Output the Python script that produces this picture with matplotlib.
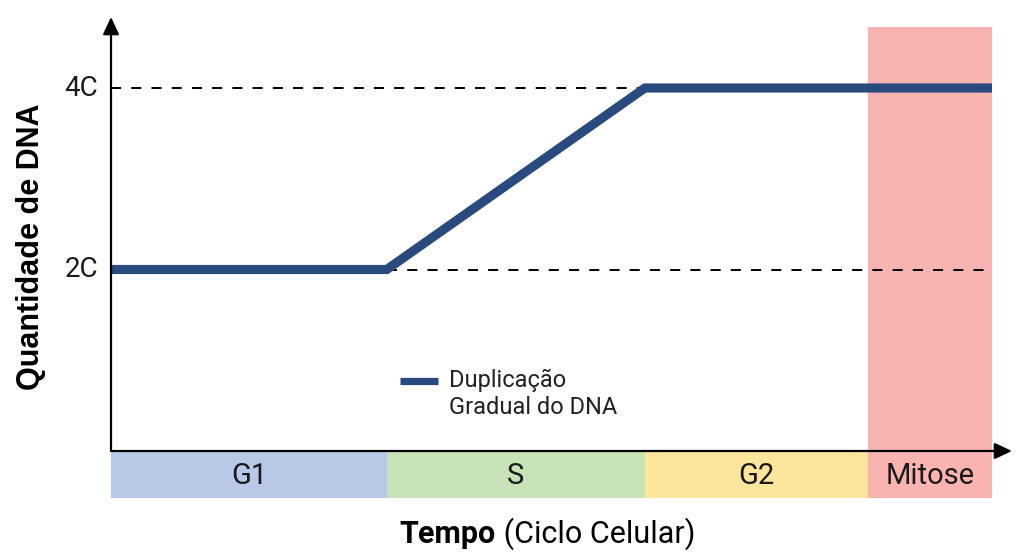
import matplotlib
matplotlib.use("Agg")
import matplotlib.pyplot as plt
from matplotlib.patches import Rectangle
import numpy as np

# ---- data ----
phases = ["G1", "S", "G2", "Mitose"]
phase_durations = [3.13, 2.93, 2.53, 1.41]
phase_colors = ["#b8c9e8", "#c8e3b8", "#fde69c", "#f9b4b1"]
dna_time = [0.0, 3.13, 6.06, 10.0]
dna_amount = [2, 2, 4, 4]
y_ticks = [2, 4]
y_tick_labels = ["2C", "4C"]
legend_lines = ["Duplicação", "Gradual do DNA"]
ylabel = "Quantidade de DNA"
xlabel_bold = "Tempo"
xlabel_rest = " (Ciclo Celular)"

# ---- layout (pixel <-> data helpers) ----
W, H = 1024, 559
X0, PX_X = 111.0, 88.1      # pixel of x=0, pixels per x unit
Y0, PX_Y = 451.0, 90.75     # pixel of y=0, pixels per y unit
def dx(px): return (px - X0) / PX_X
def dy(py): return (Y0 - py) / PX_Y

fig = plt.figure(figsize=(W / 100, H / 100), dpi=100)
ax = fig.add_axes([0, 0, 1, 1])
ax.set_xlim(dx(0), dx(W))
ax.set_ylim(dy(H), dy(0))
ax.axis("off")

bounds = np.concatenate([[0], np.cumsum(phase_durations)])
bar_bottom = dy(497.5)
mitose_top = dy(27)

# phase bar and mitosis highlight
for i, (name, col) in enumerate(zip(phases, phase_colors)):
    left, right = bounds[i], bounds[i + 1]
    top = mitose_top if name == "Mitose" else 0
    ax.add_patch(Rectangle((left, bar_bottom), right - left, top - bar_bottom,
                           facecolor=col, edgecolor="none", zorder=1))
    ax.text((left + right) / 2, dy(476), name, ha="center", va="center",
            fontsize=21, family="Roboto", color="#1a1a1a", zorder=5)

# reference dashed lines
ax.hlines(4, 0, bounds[2], colors="black", linewidth=1.4,
          linestyles=(0, (5.2, 5.2)), zorder=2)
ax.hlines(2, bounds[1], dx(986), colors="black", linewidth=1.4,
          linestyles=(0, (5.2, 5.2)), zorder=2)

# DNA curve
ax.plot(dna_time, dna_amount, color="#284a7e", linewidth=6.6,
        solid_joinstyle="miter", solid_capstyle="butt", zorder=4)

# axes with arrows
arrow = dict(arrowstyle="-|>,head_length=0.75,head_width=0.35",
             color="black", lw=1.6, mutation_scale=14, shrinkA=0, shrinkB=0)
ax.annotate("", xy=(0, dy(17)), xytext=(0, 0), arrowprops=arrow, zorder=6)
ax.annotate("", xy=(dx(1012), 0), xytext=(0, 0), arrowprops=arrow, zorder=6)

# y tick labels
for v, lab in zip(y_ticks, y_tick_labels):
    ax.text(dx(98), v, lab, ha="right", va="center", fontsize=20,
            family="Roboto", color="#1a1a1a")

# y label
ax.text(dx(31), dy(247), ylabel, rotation=90, ha="center", va="center",
        fontsize=22, family="Liberation Sans", fontweight="bold", color="black")

# legend
ax.plot([dx(400), dx(438)], [dy(381), dy(381)], color="#284a7e",
        linewidth=5.2, solid_capstyle="butt", zorder=4)
ax.text(dx(449), dy(380), legend_lines[0], ha="left", va="center",
        fontsize=17, family="Roboto", color="#222222")
ax.text(dx(449), dy(407), legend_lines[1], ha="left", va="center",
        fontsize=17, family="Roboto", color="#222222")

# x label
ax.text(dx(496), dy(543), xlabel_bold, ha="right", va="baseline",
        fontsize=22, family="Roboto", fontweight="bold", color="black")
ax.text(dx(496), dy(543), xlabel_rest, ha="left", va="baseline",
        fontsize=22, family="Roboto", color="black")

fig.savefig("out.png", dpi=100, facecolor="white")
